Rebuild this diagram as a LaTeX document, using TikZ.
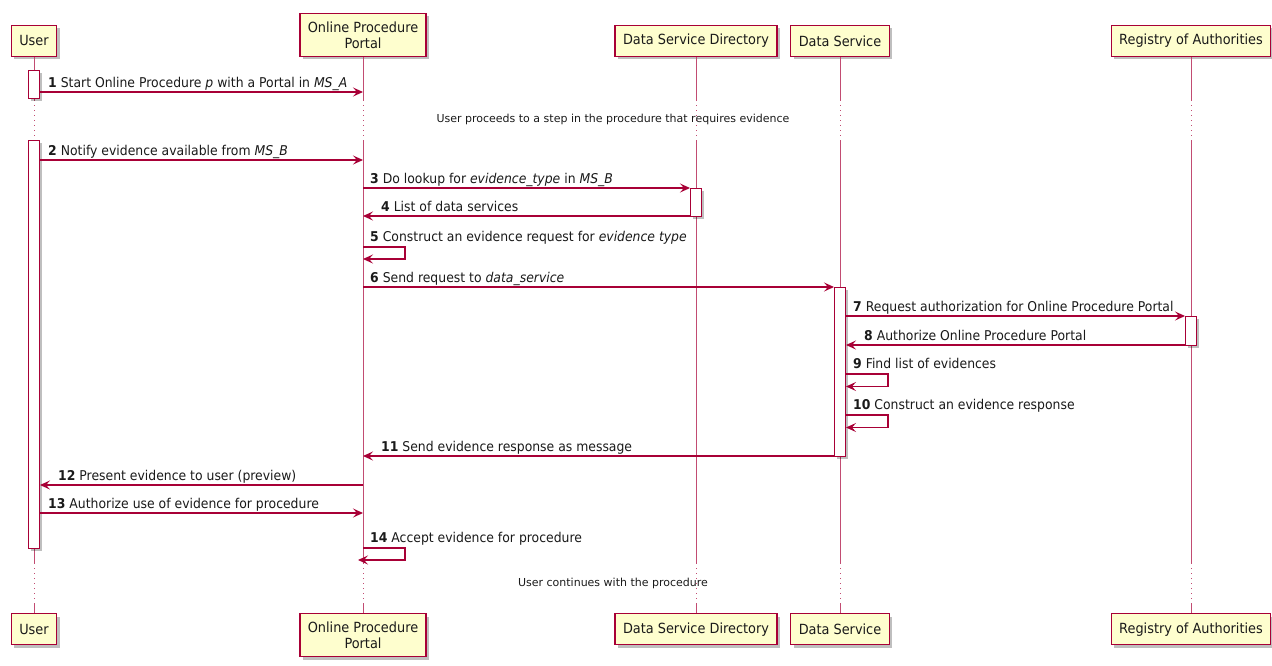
\documentclass[tikz,border=0pt]{standalone}
\usepackage{fontspec}
\setmainfont[FakeStretch=0.92]{DejaVu Sans}
\newfontfamily\delayfont{DejaVu Sans}
\usepackage{tikz}
\usetikzlibrary{calc,arrows.meta,shadows}
\definecolor{umlred}{HTML}{A80036}
\definecolor{umlfill}{HTML}{FEFECE}
\definecolor{ink}{HTML}{1A1A1A}
\tikzset{
  actor/.style={draw=umlred, line width=1.4pt, fill=umlfill, text=ink,
    font=\fontsize{14}{16}\selectfont, align=center, inner xsep=8pt, inner ysep=8pt,
    minimum height=31pt,
    drop shadow={shadow xshift=3pt, shadow yshift=-3pt, fill=black, opacity=0.25}},
  actbar/.style={draw=umlred, line width=1pt, fill=white, minimum width=11pt, inner sep=0pt,
    drop shadow={shadow xshift=2pt, shadow yshift=-2pt, fill=black, opacity=0.25}},
  life/.style={draw=umlred!70, line width=0.8pt},
  lifedot/.style={life, dash pattern=on 1pt off 4pt},
  msg/.style={draw=umlred, line width=1.1pt, -{Stealth[length=10pt,width=9pt,inset=4pt]}},
  lab/.style={text=ink, anchor=base west, inner sep=0pt, font=\fontsize{13.5}{15}\selectfont},
  delay/.style={text=ink, inner sep=0pt, font=\delayfont\fontsize{11}{13}\selectfont}
}
\begin{document}
\begin{tikzpicture}[x=1pt,y=-1pt]
  \useasboundingbox (0,0) rectangle (1272,665);

  % participants, top
  \node[actor, anchor=south] (user)   at (34,57)   {User};
  \node[actor, anchor=south] (portal) at (363,57)  {Online Procedure\\Portal};
  \node[actor, anchor=south] (dsd)    at (696,57)  {Data Service Directory};
  \node[actor, anchor=south] (ds)     at (840,57)  {Data Service};
  \node[actor, anchor=south] (roa)    at (1191,57) {Registry of Authorities};

  % participants, bottom
  \node[actor, anchor=north] (userT)   at (34,613)   {User};
  \node[actor, anchor=north] (portalT) at (363,613)  {Online Procedure\\Portal};
  \node[actor, anchor=north] (dsdT)    at (696,613)  {Data Service Directory};
  \node[actor, anchor=north] (dsT)     at (840,613)  {Data Service};
  \node[actor, anchor=north] (roaT)    at (1191,613) {Registry of Authorities};

  % lifelines
  \foreach \p in {user,portal,dsd,ds,roa}{
    \draw[life] (\p.south) -- (\p.south |- 0,100);
    \draw[lifedot] (\p.south |- 0,100) -- (\p.south |- 0,140);
    \draw[life] (\p.south |- 0,140) -- (\p.south |- 0,563);
    \draw[lifedot] (\p.south |- 0,563) -- (\p.south |- 0,603);
    \draw[life] (\p.south |- 0,603) -- (\p T.north);
  }

  % delays
  \node[delay] (gap1) at (613,119) {User proceeds to a step in the procedure that requires evidence};
  \node[delay] (gap2) at (613,583) {User continues with the procedure};

  % activations
  \node[actbar, anchor=north, minimum height=28pt]  (uAct1)   at (34,70)    {};
  \node[actbar, anchor=north, minimum height=408pt] (uAct2)   at (34,140)   {};
  \node[actbar, anchor=north, minimum height=28pt]  (dsdAct)  at (696,188)  {};
  \node[actbar, anchor=north, minimum height=169pt] (dsAct)   at (840,287)  {};
  \node[actbar, anchor=north, minimum height=29pt]  (roaAct)  at (1191,316) {};

  % messages
  \draw[msg] (uAct1.east |- 0,92) -- (portal.south |- 0,92);
  \node[lab] (l1) at ($(uAct1.east |- 0,92)+(8,-5)$) {\textbf{1} Start Online Procedure \textit{p} with a Portal in \textit{MS\_A}};

  \draw[msg] (uAct2.east |- 0,160) -- (portal.south |- 0,160);
  \node[lab] (l2) at ($(uAct2.east |- 0,160)+(8,-5)$) {\textbf{2} Notify evidence available from \textit{MS\_B}};

  \draw[msg] (portal.south |- 0,188) -- (dsdAct.west |- 0,188);
  \node[lab] (l3) at ($(portal.south |- 0,188)+(7,-5)$) {\textbf{3} Do lookup for \textit{evidence\_type} in \textit{MS\_B}};

  \draw[msg] (dsdAct.west |- 0,216) -- (portal.south |- 0,216);
  \node[lab] (l4) at ($(portal.south |- 0,216)+(18,-5)$) {\textbf{4} List of data services};

  \draw[msg] (portal.south |- 0,247) -- ++(42,0) -- ++(0,12) -- (portal.south |- 0,259);
  \node[lab] (l5) at ($(portal.south |- 0,247)+(7,-6)$) {\textbf{5} Construct an evidence request for \textit{evidence type}};

  \draw[msg] (portal.south |- 0,287) -- (dsAct.west |- 0,287);
  \node[lab] (l6) at ($(portal.south |- 0,287)+(7,-5)$) {\textbf{6} Send request to \textit{data\_service}};

  \draw[msg] (dsAct.east |- 0,316) -- (roaAct.west |- 0,316);
  \node[lab] (l7) at ($(dsAct.east |- 0,316)+(7,-5)$) {\textbf{7} Request authorization for Online Procedure Portal};

  \draw[msg] (roaAct.west |- 0,345) -- (dsAct.east |- 0,345);
  \node[lab] (l8) at ($(dsAct.east |- 0,345)+(18,-5)$) {\textbf{8} Authorize Online Procedure Portal};

  \draw[msg] (dsAct.east |- 0,374) -- ++(42,0) -- ++(0,12.5) -- (dsAct.east |- 0,386.5);
  \node[lab] (l9) at ($(dsAct.east |- 0,374)+(7,-6)$) {\textbf{9} Find list of evidences};

  \draw[msg] (dsAct.east |- 0,415) -- ++(42,0) -- ++(0,12.5) -- (dsAct.east |- 0,427.5);
  \node[lab] (l10) at ($(dsAct.east |- 0,415)+(7,-6)$) {\textbf{10} Construct an evidence response};

  \draw[msg] (dsAct.west |- 0,456) -- (portal.south |- 0,456);
  \node[lab] (l11) at ($(portal.south |- 0,456)+(18,-5)$) {\textbf{11} Send evidence response as message};

  \draw[msg] (portal.south |- 0,485) -- (uAct2.east |- 0,485);
  \node[lab] (l12) at ($(uAct2.east |- 0,485)+(18,-5)$) {\textbf{12} Present evidence to user (preview)};

  \draw[msg] (uAct2.east |- 0,513) -- (portal.south |- 0,513);
  \node[lab] (l13) at ($(uAct2.east |- 0,513)+(8,-5)$) {\textbf{13} Authorize use of evidence for procedure};

  \draw[msg] (portal.south |- 0,548) -- ++(42,0) -- ++(0,12) -- ($(portal.south |- 0,560)+(-5,0)$);
  \node[lab] (l14) at ($(portal.south |- 0,548)+(7,-6)$) {\textbf{14} Accept evidence for procedure};
\end{tikzpicture}
\end{document}
